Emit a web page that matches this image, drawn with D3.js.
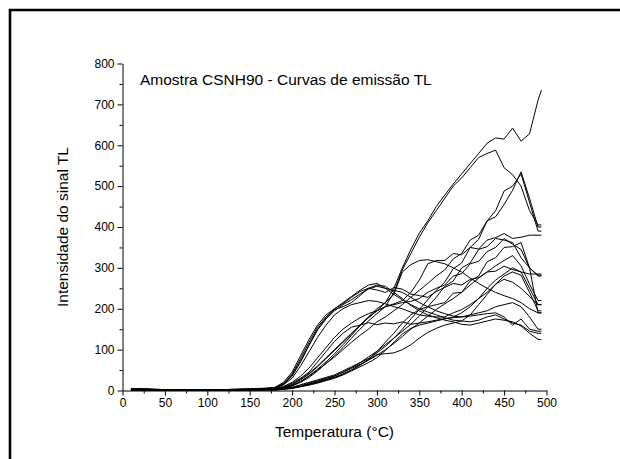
<!DOCTYPE html>
<html>
<head>
<meta charset="utf-8">
<script src="https://cdn.jsdelivr.net/npm/d3@7/dist/d3.min.js"></script>
<style>
  html, body { margin: 0; padding: 0; background: #fff; }
  svg { display: block; }
  text { font-family: "Liberation Sans", Arial, sans-serif; fill: #000; }
</style>
</head>
<body>
<svg id="chart" width="620" height="459"></svg>
<script>
// ---- data ----
const chartTitle = "Amostra CSNH90 - Curvas de emissão TL";
const xLabel = "Temperatura (°C)";
const yLabel = "Intensidade do sinal TL";
const xTicks = [0, 50, 100, 150, 200, 250, 300, 350, 400, 450, 500];
const yTicks = [0, 100, 200, 300, 400, 500, 600, 700, 800];

const temps = [10,20,30,40,50,60,70,80,90,100,110,120,130,140,150,160,170,
  180,190,200,210,220,230,240,250,260,270,280,290,300,310,320,330,340,350,360,370,
  380,390,400,410,420,430,440,450,460,470,480,490,494];

const curveA1 = [4,5,3,3,2,1,2,2,1,1,1,2,2,2,3,4,5, 8,20,45,85,125,160,185,200,215,230, 245,258,262,250,235,222,210,200,192,185, 178,172,170,168,172,180,185,175,165,160, 145,140, 140];
const curveA2 = [3,4,4,3,2,2,2,1,1,2,2,2,3,3,4,5,6, 7,18,40,78,118,155,180,198,205,215, 232,250,258,255,240,225,208,195,185,178, 172,168,162,160,165,170,175,172,168,158, 140,125, 125];
const curveA3 = [5,4,3,2,2,2,1,1,1,1,2,2,2,3,3,4,5, 6,15,35,70,110,148,175,195,210,222, 236,248,255,250,245,240,228,215,205,195, 188,182,180,185,190,195,205,210,215,205, 180,150, 150];
const curveA4 = [3,3,2,2,1,1,1,2,2,2,1,1,2,3,3,4,5, 7,16,38,72,112,150,178,200,212,228, 242,250,246,240,252,248,236,232,228,242, 252,262,258,272,276,290,292,304,296,290, 285,285, 285];
const curveA5 = [4,4,3,2,2,1,1,1,2,2,2,2,3,3,3,4,4, 5,14,30,60,95,130,160,185,200,210, 215,220,218,212,205,200,192,185,182,180, 180,190,198,210,225,240,260,272,265,250, 230,210, 210];
const curveB1 = [2,3,3,2,2,1,1,1,1,2,2,2,2,3,3,3,4, 4,10,20,35,55,80,105,130,150,165, 178,188,195,205,210,215,218,225,240,250, 258,280,286,310,316,340,350,372,358,345, 300,280, 280];
const curveB2 = [3,3,2,2,2,1,1,1,2,2,2,2,2,3,3,3,4, 4,9,18,30,45,70,95,120,140,155, 160,166,161,165,163,168,162,165,168,172, 176,178,180,182,185,188,190,180,160,175, 150,145, 145];
const curveB3 = [2,2,2,2,1,1,1,1,1,1,2,2,2,2,2,3,3, 3,8,15,28,42,60,80,100,120,140, 160,178,195,205,212,220,240,270,310,318, 318,335,332,350,346,368,374,384,372,375, 380,380, 380];
const curveB4 = [2,2,2,1,1,1,1,1,1,1,1,2,2,2,2,3,3, 3,7,14,26,40,58,78,98,118,138, 160,180,200,215,235,290,308,318,320,315, 310,300,290,275,262,250,240,232,225,215, 200,190, 190];
const curveB5 = [2,2,2,2,1,1,1,1,1,1,1,1,2,2,2,2,3, 3,6,12,22,35,50,66,82,100,118, 135,150,168,180,195,210,228,245,262,280, 295,322,335,368,380,415,425,455,490,535, 470,400, 400];
const curveT1 = [2,2,1,1,1,1,1,1,1,1,1,1,2,2,2,2,3, 3,6,12,22,36,52,70,90,112,135, 158,178,195,215,250,300,345,385,415,450, 478,505,530,555,580,605,618,615,642,610, 628,710, 735];
const curveT2 = [2,2,1,1,1,1,1,1,1,1,1,1,1,2,2,2,3, 3,6,11,20,32,48,66,85,105,128, 150,170,188,205,240,295,335,375,410,440, 470,500,520,545,570,580,588,545,528,500, 440,405, 405];
const curveC1 = [1,2,2,1,1,1,1,1,1,1,1,1,1,1,2,2,2, 2,4,8,14,20,26,32,38,48,58, 68,78,92,108,128,150,175,198,222,245, 265,298,312,350,370,415,440,488,500,530, 460,390, 390];
const curveC2 = [1,1,2,2,1,1,1,1,1,1,1,1,1,1,1,2,2, 2,4,7,12,18,24,30,36,44,54, 64,74,86,100,115,132,150,165,182,198, 212,225,240,258,275,290,305,318,330,305, 260,220, 220];
const curveC3 = [2,2,1,1,1,1,1,1,1,1,1,1,1,1,1,2,2, 2,4,6,10,15,20,26,32,40,50, 62,75,88,90,92,100,112,128,142,152, 160,165,170,185,210,235,260,280,290,282, 240,195, 195];
const curveC4 = [1,1,1,1,1,1,1,1,1,1,1,1,1,1,1,1,2, 1,3,6,10,15,20,26,32,40,50, 62,76,95,118,140,165,185,198,205,210, 215,238,240,268,280,315,325,350,352,362, 300,190, 190];
const curveC5 = [1,1,1,1,1,1,1,1,1,1,1,1,1,1,1,1,1, 1,3,5,9,13,18,24,30,38,48, 58,68,80,98,118,138,152,160,165,170, 175,180,190,205,225,250,270,285,300,290, 250,210, 210];
const curveC6 = [2,2,2,1,1,1,1,1,1,1,1,1,1,1,2,2,2, 2,4,6,10,16,22,28,35,45,56, 68,82,96,112,128,145,162,182,205,228, 255,268,300,312,345,352,372,368,362,325, 300,282, 282];

const curves = [curveA1, curveA2, curveA3, curveA4, curveA5,
  curveB1, curveB2, curveB3, curveB4, curveB5,
  curveT1, curveT2, curveC1, curveC2, curveC3, curveC4, curveC5, curveC6];

// ---- drawing ----
const svg = d3.select("#chart");
const FONT = '"Liberation Sans", Arial, sans-serif';

// page frame (top and left edges)
svg.append("path")
  .attr("d", "M10,459 L10,10 L620,10")
  .attr("fill", "none").attr("stroke", "#000").attr("stroke-width", 2.6);

const x = d3.scaleLinear().domain([0, 500]).range([122.5, 546.5]);
const y = d3.scaleLinear().domain([0, 800]).range([390.5, 63.5]);

// minor ticks
svg.append("g").attr("transform", "translate(0,390.5)")
  .call(d3.axisBottom(x).tickValues(d3.range(25, 500, 50)).tickSize(3).tickSizeOuter(0).tickFormat(""))
  .call(g => g.select(".domain").remove());
svg.append("g").attr("transform", "translate(122.5,0)")
  .call(d3.axisLeft(y).tickValues(d3.range(50, 800, 100)).tickSize(3).tickSizeOuter(0).tickFormat(""))
  .call(g => g.select(".domain").remove());

// major axes
const gx = svg.append("g").attr("transform", "translate(0,390.5)")
  .call(d3.axisBottom(x).tickValues(xTicks).tickSize(5).tickSizeOuter(0).tickPadding(3));
const gy = svg.append("g").attr("transform", "translate(122.5,0)")
  .call(d3.axisLeft(y).tickValues(yTicks).tickSize(5).tickSizeOuter(0).tickPadding(3));

svg.selectAll(".tick line, .domain").attr("stroke", "#000").attr("stroke-width", 1);
[gx, gy].forEach(g => g.selectAll("text")
  .attr("font-family", FONT).attr("font-size", 12).attr("fill", "#000"));

// curves
const line = d3.line().x((d, i) => x(temps[i])).y(d => y(d));
svg.append("g").selectAll("path").data(curves).join("path")
  .attr("d", line)
  .attr("fill", "none").attr("stroke", "#000").attr("stroke-width", 1)
  .attr("stroke-linejoin", "round");

// texts
svg.append("text").attr("x", 140).attr("y", 84.5)
  .attr("font-size", 15.5).attr("font-family", FONT).text(chartTitle);
svg.append("text").attr("x", 334.5).attr("y", 437)
  .attr("text-anchor", "middle").attr("font-size", 15.5).attr("font-family", FONT).text(xLabel);
svg.append("text").attr("transform", "translate(67.5,227) rotate(-90)")
  .attr("text-anchor", "middle").attr("font-size", 15.5).attr("font-family", FONT).text(yLabel);
</script>
</body>
</html>
